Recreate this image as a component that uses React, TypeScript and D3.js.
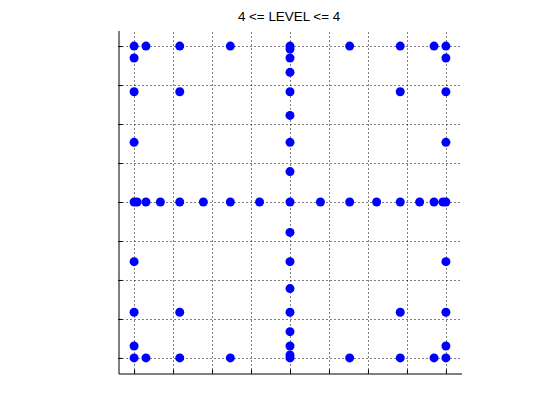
import { useEffect, useRef } from "react";
import * as d3 from "d3";

// sparse grid nodes, grouped by row (y value) -> x values in that row
const rowY = [
  1, 0.9808, 0.9239, 0.8315, 0.7071, 0.5556, 0.3827, 0.1951, 0,
  -0.1951, -0.3827, -0.5556, -0.7071, -0.8315, -0.9239, -0.9808, -1,
];
const rowX: number[][] = [
  [-1, -0.9239, -0.7071, -0.3827, 0, 0.3827, 0.7071, 0.9239, 1],
  [0],
  [-1, 0, 1],
  [0],
  [-1, -0.7071, 0, 0.7071, 1],
  [0],
  [-1, 0, 1],
  [0],
  [
    -1, -0.9808, -0.9239, -0.8315, -0.7071, -0.5556, -0.3827, -0.1951, 0,
    0.1951, 0.3827, 0.5556, 0.7071, 0.8315, 0.9239, 0.9808, 1,
  ],
  [0],
  [-1, 0, 1],
  [0],
  [-1, -0.7071, 0, 0.7071, 1],
  [0],
  [-1, 0, 1],
  [0],
  [-1, -0.9239, -0.7071, -0.3827, 0, 0.3827, 0.7071, 0.9239, 1],
];
const tickVals = [-1, -0.75, -0.5, -0.25, 0, 0.25, 0.5, 0.75, 1];
const title = "4 <= LEVEL <= 4";

export default function App() {
  const svgRef = useRef<SVGSVGElement>(null);

  useEffect(() => {
    if (!svgRef.current) return;
    const svg = d3.select(svgRef.current);
    svg.selectAll("*").remove();

    const left = 118.5, right = 461.5, top = 30.5, bottom = 373.5;
    const x = d3.scaleLinear().domain([-1.1, 1.1]).range([left, right]);
    const y = d3.scaleLinear().domain([-1.1, 1.1]).range([bottom, top]);

    const points = rowY.flatMap((yy, i) => rowX[i].map(xx => ({ x: xx, y: yy })));

    // dotted grid
    const grid = svg.append("g")
      .attr("stroke", "#000")
      .attr("stroke-width", 1)
      .attr("stroke-dasharray", "1,3");
    grid.selectAll(".gx")
      .data(tickVals)
      .enter()
      .append("line")
      .attr("x1", d => Math.round(x(d)) + 0.5)
      .attr("x2", d => Math.round(x(d)) + 0.5)
      .attr("y1", bottom)
      .attr("y2", top);
    grid.selectAll(".gy")
      .data(tickVals)
      .enter()
      .append("line")
      .attr("y1", d => Math.round(y(d)) + 0.5)
      .attr("y2", d => Math.round(y(d)) + 0.5)
      .attr("x1", left)
      .attr("x2", right);

    // axes (ticks inward, no labels)
    const xAxis = svg.append("g")
      .attr("transform", `translate(0,${bottom})`)
      .call(d3.axisBottom(x).tickValues(tickVals).tickSize(-4).tickSizeOuter(0).tickFormat(() => ""));
    const yAxis = svg.append("g")
      .attr("transform", `translate(${left},0)`)
      .call(d3.axisLeft(y).tickValues(tickVals).tickSize(-4).tickSizeOuter(0).tickFormat(() => ""));
    [xAxis, yAxis].forEach(a => {
      a.selectAll(".domain, .tick line").attr("stroke", "#000").attr("stroke-width", 1);
    });

    // points
    svg.append("g")
      .selectAll("circle")
      .data(points)
      .enter()
      .append("circle")
      .attr("cx", d => x(d.x))
      .attr("cy", d => y(d.y))
      .attr("r", 4.5)
      .attr("fill", "#0000ff");

    svg.append("text")
      .attr("x", (left + right) / 2 - 1)
      .attr("y", 21)
      .attr("text-anchor", "middle")
      .attr("font-family", "'Liberation Sans', Arial, sans-serif")
      .attr("font-size", "13.4px")
      .attr("fill", "#000")
      .text(title);
  }, []);

  return (
    <svg
      ref={svgRef}
      width={560}
      height={420}
      style={{ position: "absolute", left: 0, top: 0, background: "#fff" }}
    ></svg>
  );
}
